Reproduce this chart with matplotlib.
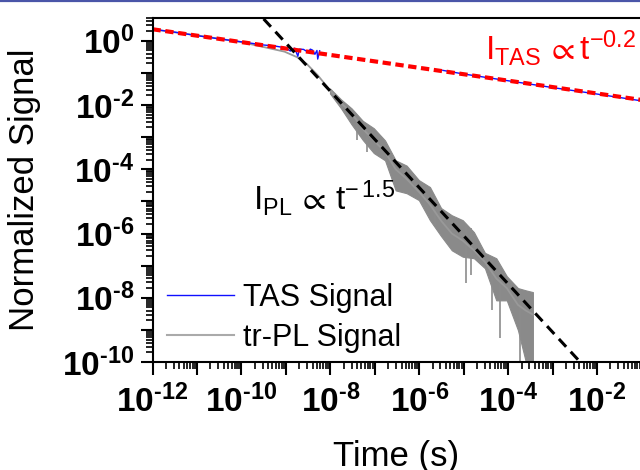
import numpy as np
import matplotlib
matplotlib.use("Agg")
import matplotlib.pyplot as plt
from matplotlib.ticker import FixedLocator, FuncFormatter, NullFormatter
from matplotlib.lines import Line2D

plt.rcParams['font.family'] = ['Liberation Sans', 'DejaVu Sans']
plt.rcParams['mathtext.fontset'] = 'custom'
plt.rcParams['mathtext.rm'] = 'Liberation Sans'
plt.rcParams['mathtext.it'] = 'Liberation Sans:italic'
plt.rcParams['mathtext.bf'] = 'Liberation Sans:bold'

# TAS signal (two measured segments)
tas_t1 = [1e-12, 3.16e-12, 1e-11, 3.16e-11, 1e-10, 3.16e-10, 5.6e-10, 1e-9, 1.26e-9,
          1.58e-9, 1.86e-9, 2.0e-9, 2.5e-9, 3.16e-9, 3.55e-9, 4.0e-9, 4.5e-9, 5.0e-9,
          5.2e-9, 5.75e-9]
tas_y1 = [2.29, 1.86, 1.45, 1.15, 0.93, 0.74, 0.69, 0.60, 0.48,
          0.59, 0.33, 0.55, 0.54, 0.44, 0.55, 0.51, 0.38, 0.50,
          0.27, 0.49]
tas_t2 = [3.4e-6, 1e-5, 1e-4, 1e-3, 1e-2, 1e-1]
tas_y2 = [0.12, 0.0925, 0.057, 0.035, 0.022, 0.0135]

# tr-PL signal (centre trace)
pl_t = [1e-12, 1e-11, 1e-10, 3.0e-10, 9.3e-10, 1.78e-9, 2.95e-9, 5.2e-9, 9.8e-9,
        1.74e-8, 3.0e-8, 5.4e-8, 9.5e-8, 1.7e-7, 2.95e-7, 5.2e-7, 9.8e-7, 1.74e-6,
        3.1e-6, 5.4e-6, 9.5e-6, 1.7e-5, 3.0e-5, 5.4e-5, 9.3e-5, 1.66e-4, 2.5e-4, 3.6e-4]
pl_y = [2.29, 1.48, 0.91, 0.65, 0.46, 0.31, 0.19, 0.085, 0.029,
        0.0115, 5.6e-3, 1.8e-3, 7.9e-4, 3.5e-4, 1.0e-4, 5.0e-5, 2.0e-5, 8.0e-6,
        2.5e-6, 1.0e-6, 6.0e-7, 3.0e-7, 1.3e-7, 4.0e-8, 2.0e-8, 6.0e-9, 4.0e-9, 3.0e-9]

# noise envelope of the tr-PL signal
band_t = [9.8e-9, 1.74e-8, 3.0e-8, 5.4e-8, 9.5e-8, 1.7e-7, 2.95e-7, 5.2e-7, 9.8e-7,
          1.74e-6, 3.1e-6, 5.4e-6, 9.5e-6, 1.7e-5, 3.0e-5, 5.4e-5, 9.3e-5, 1.66e-4,
          2.5e-4, 3.6e-4]
band_hi = [3.3e-2, 1.5e-2, 7.9e-3, 3.2e-3, 1.9e-3, 7.9e-4, 1.9e-4, 1.3e-4, 4.6e-5,
           2.8e-5, 6.2e-6, 3.7e-6, 2.6e-6, 1.1e-6, 2.5e-7, 1.7e-7, 4.7e-8, 2.0e-8,
           1.7e-8, 1.5e-8]
band_lo = [2.3e-2, 7.9e-3, 2.5e-3, 8.1e-4, 3.2e-4, 1.9e-4, 2.2e-5, 1.8e-5, 1.1e-5,
           2.6e-6, 8.3e-7, 3.0e-7, 1.9e-7, 1.7e-7, 8.3e-8, 8.3e-9, 8.3e-9, 9.8e-10,
           1e-10, 1e-10]

# downward noise spikes
spike_t = [3.9e-8, 6.6e-8, 2.3e-6, 1.1e-5, 1.45e-5, 4.3e-5, 6.6e-5, 1.86e-4]
spike_top = [5e-3, 2e-3, 8e-6, 2e-6, 1.5e-6, 1.5e-7, 1e-7, 1.5e-8]
spike_bot = [8.1e-4, 3.4e-4, 1.8e-6, 2.8e-8, 5e-8, 4.1e-9, 5.5e-10, 1e-10]

# power-law guides
fit_tas_t = [1e-12, 1.0]
fit_tas_y = [2.29, 0.0091]
fit_pl_t = [3.16e-10, 5.0e-3]
fit_pl_y = [4.8, 7.6e-11]

W, H = 640, 470
fig = plt.figure(figsize=(6.4, 4.7), dpi=100)
ax = fig.add_axes([152.5 / W, 108 / H, (686 - 152.5) / W, 344 / H])

ax.fill_between(band_t, band_lo, band_hi, color='#8a8a8a', lw=0.8, edgecolor='#8a8a8a')
ax.vlines(spike_t, spike_bot, spike_top, color='#8c8c8c', lw=1.2)
ax.plot(pl_t, pl_y, color='#999999', lw=1.3)
ax.plot(tas_t1, tas_y1, color='#1010ff', lw=1.0)
ax.plot(tas_t2, tas_y2, color='#1010ff', lw=1.0)
ax.plot(fit_tas_t, fit_tas_y, color='red', lw=3, ls=(0, (2.0, 1.1)))
ax.plot(fit_pl_t, fit_pl_y, color='black', lw=2.2, ls=(0, (3.5, 2.2)))

ax.set_xscale('log')
ax.set_yscale('log')
ax.set_xlim(1e-12, 1e0)
ax.set_ylim(1e-10, 10 ** 0.71)

dec_x = [10.0 ** k for k in range(-12, 1)]
dec_y = [10.0 ** k for k in range(-10, 1)]
ax.xaxis.set_major_locator(FixedLocator(dec_x))
ax.yaxis.set_major_locator(FixedLocator(dec_y))
ax.xaxis.set_minor_locator(FixedLocator([m * 10.0 ** k for k in range(-12, 0) for m in range(2, 10)]))
ax.yaxis.set_minor_locator(FixedLocator([m * 10.0 ** k for k in range(-10, 1) for m in range(2, 10)]))
ax.xaxis.set_minor_formatter(NullFormatter())
ax.yaxis.set_minor_formatter(NullFormatter())


def lab(v, pos):
    k = int(round(np.log10(v)))
    if k % 2:
        return ''
    s = str(k).replace('-', '\u2010')
    return r'$\mathbf{10}^{\mathbf{%s}}$' % s


def xlab(v, pos):
    # the 10^0 label falls outside the visible picture
    if v > 0.5:
        return ''
    return lab(v, pos)


ax.xaxis.set_major_formatter(FuncFormatter(xlab))
ax.yaxis.set_major_formatter(FuncFormatter(lab))
ax.tick_params(which='major', direction='out', length=9, width=1.5, labelsize=24, pad=4)
ax.tick_params(which='minor', direction='out', length=5, width=1.2)
ax.tick_params(axis='x', which='major', pad=7)
for s in ax.spines.values():
    s.set_linewidth(1.5)
ax.spines['right'].set_visible(False)

ax.text(10 ** -9.75, 10 ** -5.27, r'$\mathregular{I_{PL}\,\propto\,t^{-\,1.5}}$',
        fontsize=24, color='black', ha='left', va='baseline')
ax.text(10 ** -4.52, 10 ** -0.60, r'$\mathregular{I_{TAS}\,\propto t^{-0.2}}$',
        fontsize=24, color='red', ha='left', va='baseline')

hs = [Line2D([], [], color='#1010ff', lw=1.0), Line2D([], [], color='#aaaaaa', lw=1.5)]
ax.legend(hs, ['TAS Signal', 'tr-PL Signal'], loc='center left',
          bbox_to_anchor=((167 - 152.5) / (686 - 152.5), (362 - 318) / 344),
          frameon=False, fontsize=22, handlelength=2.2, handletextpad=0.3,
          labelspacing=0.33, borderpad=0, borderaxespad=0)

fig.text(396 / W, 4 / H, 'Time (s)', fontsize=25, ha='center', va='baseline')
fig.text(25 / W, (470 - 190) / H, 'Normalized Signal', fontsize=25, rotation=90,
         ha='center', va='center')
fig.add_artist(Line2D([0, 1], [1 - 0.8 / H, 1 - 0.8 / H], color='#4a55a8', lw=1.6,
                      transform=fig.transFigure))

fig.savefig('out.png', dpi=100)
